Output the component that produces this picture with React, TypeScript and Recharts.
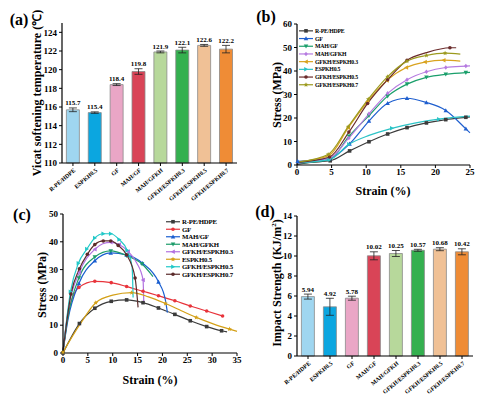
import React from "react";
import { BarChart, Bar, LineChart, Line, XAxis, YAxis, ErrorBar, LabelList, Cell } from "recharts";

const FONT = '"Liberation Serif", "Times New Roman", serif';

// ---- bar panels (a) and (d) ----
const sampleNames = [
  "R-PE/HDPE",
  "ESPKH0.5",
  "GF",
  "MAH/GF",
  "MAH/GFKH",
  "GFKH/ESPKH0.3",
  "GFKH/ESPKH0.5",
  "GFKH/ESPKH0.7",
];
const barColors = ["#9fd6f0", "#0ba6e0", "#eaa6c6", "#d94457", "#b7d89b", "#34b04f", "#f0c196", "#ef8c36"];

const vicatValues = [115.7, 115.4, 118.4, 119.8, 121.9, 122.1, 122.6, 122.2];
const vicatErrors = [0.2, 0.08, 0.1, 0.3, 0.1, 0.3, 0.1, 0.4];
const vicatTicks = [110, 112, 114, 116, 118, 120, 122, 124];

const impactValues = [5.94, 4.92, 5.78, 10.02, 10.25, 10.57, 10.68, 10.42];
const impactErrors = [0.25, 0.85, 0.2, 0.4, 0.3, 0.1, 0.15, 0.3];
const impactTicks = [0, 2, 4, 6, 8, 10, 12, 14];

// ---- line panels (b) and (c): [strain, stress, marker?] ----
const strainTicksB = [0, 5, 10, 15, 20, 25];
const stressTicksB = [0, 10, 20, 30, 40, 50, 60];
const strainTicksC = [0, 5, 10, 15, 20, 25, 30, 35];
const stressTicksC = [0, 10, 20, 30, 40, 50];

const bRpe = [[0, 0.3, 0], [2, 1.1, 0], [4.8, 1.8, 1], [7.6, 6, 1], [10.4, 9.9, 1], [13.1, 13.2, 1], [15.9, 15.9, 1], [18.7, 17.9, 1], [21.5, 19.3, 1], [24.4, 20.3, 1], [25, 20.5, 0]];
const bGf = [[0.1, 1.6, 1], [2, 2, 0], [4.7, 2.8, 1], [7.6, 9, 1], [10.4, 18.7, 1], [13.1, 26.3, 1], [15.9, 28.4, 1], [18.7, 26.6, 1], [21.5, 23.2, 1], [24.4, 15.4, 1], [25, 13.7, 0]];
const bMahGf = [[0, 0.8, 0], [4.7, 2.3, 1], [7.5, 12.2, 1], [10.4, 21, 1], [13.1, 29.3, 1], [15.9, 34.4, 1], [18.7, 37.3, 1], [21.5, 38.6, 1], [24.4, 39.3, 1], [25, 39.4, 0]];
const bMahGfkh = [[0, 0.8, 0], [4.7, 2.8, 1], [7.5, 11.5, 1], [10.4, 21.8, 1], [13.1, 30.5, 1], [15.9, 36.3, 1], [18.7, 39.7, 1], [21.5, 41.5, 1], [24.4, 42.1, 1], [25, 42.2, 0]];
const bEsp03 = [[0, 1.2, 0], [4.6, 4, 1], [7.4, 15.8, 1], [10.2, 27, 1], [13, 36, 1], [15.8, 41.5, 1], [18.5, 43.8, 1], [21.2, 44.6, 1], [23.6, 44.2, 0]];
const bEsp = [[0, 1, 0], [4.7, 2.3, 1], [7.5, 8.8, 1], [10.4, 12.6, 0], [13.7, 15.6, 1], [17, 17.8, 0], [20.5, 19.5, 1], [25, 20.8, 0]];
const bEsp05 = [[0, 1, 0], [4.7, 3.4, 1], [7.5, 14, 1], [10.2, 26.2, 1], [13.1, 36.3, 1], [15.9, 44.6, 1], [18.7, 47.8, 0], [22.1, 49.9, 1], [23, 49.9, 0]];
const bEsp07 = [[0, 1.2, 0], [4.5, 4.5, 1], [7.4, 16.3, 1], [10.3, 28, 1], [13.1, 37.6, 1], [15.9, 44.2, 1], [18.7, 46.6, 1], [21.4, 47.6, 1], [23.6, 47.2, 0]];

const cRpe = [[0, 0, 1], [3.3, 10.6, 1], [6.4, 16.1, 1], [9.7, 18.6, 1], [12.8, 19.1, 1], [16.1, 18.1, 1], [19.2, 16.2, 1], [22.5, 13.9, 1], [25.6, 11.6, 1], [28.9, 9.5, 1], [31.9, 8, 1], [33, 7.6, 0]];
const cGf = [[0, 0.5, 0], [1, 14, 0], [3.2, 23.6, 1], [6.4, 25.8, 1], [9.7, 25.3, 1], [12.8, 23.9, 1], [16.1, 22.2, 1], [19.2, 20.6, 1], [22.5, 18.8, 1], [25.6, 16.9, 1], [28.9, 15.1, 1], [32.1, 13.3, 1]];
const cMahGf = [[0, 0.5, 0], [1, 12, 0], [3.2, 25, 1], [6.4, 33.2, 1], [9.6, 36, 1], [12.8, 35.3, 1], [16, 32.3, 1], [19.2, 25.6, 1], [20.6, 19, 0], [21, 14.5, 0]];
const cMahGfkh = [[0, 0.5, 0], [1, 13, 0], [3.2, 27, 1], [6.4, 34.5, 1], [9.6, 36.7, 1], [12.8, 35, 1], [15.9, 32, 1], [18.1, 27.5, 0]];
const cEsp03 = [[0, 0.5, 0], [1, 15, 0], [3.3, 29, 1], [6.4, 37.3, 1], [8, 39.3, 0], [9.6, 39.8, 1], [11.3, 39, 1], [13.1, 36.5, 1], [14.8, 32.5, 0], [16.1, 26.3, 1], [16.25, 18, 0]];
const cEsp = [[0, 0.3, 1], [3.3, 10, 0], [6.6, 18.1, 1], [10, 20.8, 0], [13.8, 21.7, 1], [17.2, 20.2, 0], [20.6, 17.8, 1], [23.8, 15.2, 0], [26.8, 12.8, 1], [30.2, 10.5, 0], [33.5, 8.6, 1], [35, 7.8, 0]];
const cEsp05 = [[0, 0.5, 0], [1.5, 22, 1], [3.1, 32.3, 1], [4.8, 37.4, 1], [6.4, 41.4, 1], [8.1, 42.9, 1], [9.6, 42.9, 1], [11.3, 40.8, 1], [12.9, 37, 1], [13.9, 31, 0], [14.1, 20, 0]];
const cEsp07 = [[0, 0.5, 0], [1.6, 21.2, 1], [3.3, 30.3, 1], [4.9, 35.5, 1], [6.4, 39, 1], [8.1, 40.3, 1], [9.6, 40.3, 1], [11.1, 38.7, 1], [12.8, 35.3, 1], [14.5, 27, 1], [15.1, 16.4, 0]];

type Series = { name: string; color: string; shape: string; pts: number[][] };

const seriesB: Series[] = [
  { name: "R-PE/HDPE", color: "#3b3b3b", shape: "square", pts: bRpe },
  { name: "GF", color: "#1f5fcf", shape: "up", pts: bGf },
  { name: "MAH/GF", color: "#1a9f6b", shape: "down", pts: bMahGf },
  { name: "MAH/GFKH", color: "#b67be0", shape: "diamond", pts: bMahGfkh },
  { name: "GFKH/ESPKH0.3", color: "#d9a31f", shape: "left", pts: bEsp03 },
  { name: "ESPKH0.5", color: "#2cc3c6", shape: "right", pts: bEsp },
  { name: "GFKH/ESPKH0.5", color: "#6a2b2b", shape: "circle", pts: bEsp05 },
  { name: "GFKH/ESPKH0.7", color: "#9c9a1e", shape: "star", pts: bEsp07 },
];

const seriesC: Series[] = [
  { name: "R-PE/HDPE", color: "#3b3b3b", shape: "square", pts: cRpe },
  { name: "GF", color: "#e8343b", shape: "circle", pts: cGf },
  { name: "MAH/GF", color: "#1a5fd0", shape: "up", pts: cMahGf },
  { name: "MAH/GFKH", color: "#1d9c6a", shape: "down", pts: cMahGfkh },
  { name: "GFKH/ESPKH0.3", color: "#b171e0", shape: "left", pts: cEsp03 },
  { name: "ESPKH0.5", color: "#d4a017", shape: "star", pts: cEsp },
  { name: "GFKH/ESPKH0.5", color: "#21c8c8", shape: "right", pts: cEsp05 },
  { name: "GFKH/ESPKH0.7", color: "#5b2b2b", shape: "circle", pts: cEsp07 },
];

const tickStyle = { fontSize: 9, fontWeight: 700, fill: "#000", fontFamily: FONT };

function Marker({ cx, cy, shape, color, s = 1.8 }: any) {
  const k = s * 1.25;
  switch (shape) {
    case "square":
      return <rect x={cx - s} y={cy - s} width={2 * s} height={2 * s} fill={color} />;
    case "circle":
      return <circle cx={cx} cy={cy} r={s} fill={color} />;
    case "up":
      return <polygon points={`${cx},${cy - k} ${cx - k},${cy + s} ${cx + k},${cy + s}`} fill={color} />;
    case "down":
      return <polygon points={`${cx},${cy + k} ${cx - k},${cy - s} ${cx + k},${cy - s}`} fill={color} />;
    case "diamond":
      return <polygon points={`${cx},${cy - k} ${cx + s},${cy} ${cx},${cy + k} ${cx - s},${cy}`} fill={color} />;
    case "left":
      return <polygon points={`${cx - k},${cy} ${cx + s},${cy - k} ${cx + s},${cy + k}`} fill={color} />;
    case "right":
      return <polygon points={`${cx + k},${cy} ${cx - s},${cy - k} ${cx - s},${cy + k}`} fill={color} />;
    default: {
      const p: string[] = [];
      for (let i = 0; i < 10; i++) {
        const r = i % 2 === 0 ? k * 1.1 : k * 0.5;
        const a = (Math.PI / 5) * i - Math.PI / 2;
        p.push(`${cx + r * Math.cos(a)},${cy + r * Math.sin(a)}`);
      }
      return <polygon points={p.join(" ")} fill={color} />;
    }
  }
}

function SlantTick({ x, y, payload }: any) {
  const tx = x + 3;
  const ty = y + 3;
  return (
    <text x={tx} y={ty} transform={`rotate(-40 ${tx} ${ty})`} textAnchor="end" fontSize={6} fontWeight={700} fontFamily={FONT} fill="#000">
      {payload.value}
    </text>
  );
}

function BarPanel({ values, errors, ticks, domain, digits, width, height, margin, yWidth, xHeight }: any) {
  const data = sampleNames.map((name, i) => ({ name, v: values[i], e: errors[i] }));
  const base = domain[0];
  const valueLabel = (props: any) => {
    const { x, y, width: w, height: h, value, index } = props;
    const ppu = Number(h) / (value - base);
    const top = Number(y) - errors[index] * ppu - 2.5;
    return (
      <text key={index} x={Number(x) + Number(w) / 2} y={top} textAnchor="middle" fontSize={7} fontWeight={700} fontFamily={FONT} fill="#000">
        {value.toFixed(digits)}
      </text>
    );
  };
  return (
    <BarChart width={width} height={height} data={data} margin={margin} barCategoryGap="20%">
      <XAxis dataKey="name" interval={0} tick={<SlantTick />} tickSize={3} tickMargin={2} height={xHeight} axisLine={{ stroke: "#000", strokeWidth: 1.2 }} tickLine={{ stroke: "#000" }} />
      <XAxis xAxisId="top" orientation="top" dataKey="name" tick={false} tickLine={false} height={0} axisLine={{ stroke: "#000", strokeWidth: 1.2 }} />
      <YAxis domain={domain} ticks={ticks} interval={0} width={yWidth} tick={tickStyle} tickSize={3} tickMargin={2} axisLine={{ stroke: "#000", strokeWidth: 1.2 }} tickLine={{ stroke: "#000" }} />
      <YAxis yAxisId="right" orientation="right" domain={domain} tick={false} tickLine={false} width={0} axisLine={{ stroke: "#000", strokeWidth: 1.2 }} />
      <Bar dataKey="v" isAnimationActive={false} stroke="#8a8a8a" strokeWidth={0.8}>
        {data.map((d, i) => (
          <Cell key={d.name} fill={barColors[i]} />
        ))}
        <ErrorBar dataKey="e" width={4} stroke="#222" strokeWidth={0.8} />
        <LabelList dataKey="v" content={valueLabel} />
      </Bar>
    </BarChart>
  );
}

function LinePanel({ series, xTicks, yTicks, xMax, yMax, width, height, margin, yWidth, xHeight }: any) {
  return (
    <LineChart width={width} height={height} margin={margin}>
      <XAxis type="number" dataKey="x" domain={[0, xMax]} ticks={xTicks} interval={0} height={xHeight} tick={tickStyle} tickSize={3} tickMargin={1} axisLine={{ stroke: "#000", strokeWidth: 1.2 }} tickLine={{ stroke: "#000" }} />
      <XAxis xAxisId="top" orientation="top" type="number" dataKey="x" domain={[0, xMax]} tick={false} tickLine={false} height={0} axisLine={{ stroke: "#000", strokeWidth: 1.2 }} />
      <YAxis type="number" domain={[0, yMax]} ticks={yTicks} interval={0} width={yWidth} tick={tickStyle} tickSize={3} tickMargin={2} axisLine={{ stroke: "#000", strokeWidth: 1.2 }} tickLine={{ stroke: "#000" }} />
      <YAxis yAxisId="right" orientation="right" type="number" domain={[0, yMax]} tick={false} tickLine={false} width={0} axisLine={{ stroke: "#000", strokeWidth: 1.2 }} />
      {series.map((s: Series) => (
        <Line
          key={s.name}
          data={s.pts.map(([x, y, m]) => ({ x, y, m }))}
          dataKey="y"
          type="monotone"
          stroke={s.color}
          strokeWidth={1.2}
          activeDot={false}
          isAnimationActive={false}
          dot={(p: any) =>
            p.payload.m ? (
              <Marker key={p.index} cx={p.cx} cy={p.cy} shape={s.shape} color={s.color} />
            ) : (
              <g key={p.index} />
            )
          }
        />
      ))}
    </LineChart>
  );
}

function LegendBox({ series, left, top, step, fontSize, lineLen }: any) {
  return (
    <svg style={{ position: "absolute", left, top }} width={110} height={series.length * step + 4}>
      {series.map((s: Series, i: number) => {
        const cy = step / 2 + i * step;
        return (
          <g key={s.name}>
            <line x1={0} x2={lineLen} y1={cy} y2={cy} stroke={s.color} strokeWidth={1.2} />
            <Marker cx={lineLen / 2} cy={cy} shape={s.shape} color={s.color} />
            <text x={lineLen + 2} y={cy + fontSize * 0.35} fontSize={fontSize} fontWeight={700} fontFamily={FONT} letterSpacing={-0.2} fill="#000">
              {s.name}
            </text>
          </g>
        );
      })}
    </svg>
  );
}

const abs = (left: number, top: number): React.CSSProperties => ({ position: "absolute", left, top });

function VTitle({ x, y, text, size = 12 }: any) {
  return (
    <div
      style={{
        position: "absolute",
        left: x,
        top: y,
        transform: "translate(-50%, -50%) rotate(-90deg)",
        whiteSpace: "nowrap",
        fontFamily: FONT,
        fontWeight: 700,
        fontSize: size,
        lineHeight: 1,
      }}
    >
      {text}
    </div>
  );
}

function HTitle({ x, y, text, size = 12 }: any) {
  return (
    <div
      style={{
        position: "absolute",
        left: x,
        top: y,
        transform: "translate(-50%, -50%)",
        whiteSpace: "nowrap",
        fontFamily: FONT,
        fontWeight: 700,
        fontSize: size,
        lineHeight: 1,
      }}
    >
      {text}
    </div>
  );
}

export default function App() {
  return (
    <div style={{ position: "absolute", left: 0, top: 0, width: 500, height: 399, background: "#fff", overflow: "hidden" }}>
      {/* (a) Vicat */}
      <div style={abs(0, 0)}>
        <BarPanel values={vicatValues} errors={vicatErrors} ticks={vicatTicks} domain={[110, 125]} digits={1} width={250} height={215} margin={{ top: 23, right: 13, left: 0, bottom: 0 }} yWidth={62} xHeight={52} />
      </div>
      {/* (b) tensile */}
      <div style={abs(250, 0)}>
        <LinePanel series={seriesB} xTicks={strainTicksB} yTicks={stressTicksB} xMax={25} yMax={60} width={250} height={200} margin={{ top: 24, right: 30, left: 0, bottom: 0 }} yWidth={47} xHeight={35} />
      </div>
      {/* (c) flexural */}
      <div style={abs(0, 200)}>
        <LinePanel series={seriesC} xTicks={strainTicksC} yTicks={stressTicksC} xMax={35} yMax={50} width={250} height={199} margin={{ top: 14, right: 13, left: 0, bottom: 0 }} yWidth={63} xHeight={46} />
      </div>
      {/* (d) impact */}
      <div style={abs(250, 200)}>
        <BarPanel values={impactValues} errors={impactErrors} ticks={impactTicks} domain={[0, 14]} digits={2} width={250} height={199} margin={{ top: 16, right: 27, left: 0, bottom: 0 }} yWidth={47} xHeight={43} />
      </div>

      <LegendBox series={seriesB} left={299} top={27} step={7.7} fontSize={5.8} lineLen={14} />
      <LegendBox series={seriesC} left={166} top={218} step={7.5} fontSize={6.8} lineLen={14} />

      <HTitle x={19} y={20} text="(a)" size={16} />
      <HTitle x={266} y={17} text="(b)" size={16} />
      <HTitle x={22} y={215} text="(c)" size={16} />
      <HTitle x={265} y={212} text="(d)" size={16} />

      <VTitle x={37} y={93} text="Vicat softening temperature (℃)" />
      <VTitle x={277} y={95} text="Stress (MPa)" />
      <HTitle x={383} y={191} text="Strain (%)" />
      <VTitle x={42} y={285} text="Stress (MPa)" />
      <HTitle x={150} y={380} text="Strain (%)" />
      <VTitle x={277} y={283} text={<span>Impact Strength (KJ/m<sup style={{ fontSize: 7 }}>2</sup>)</span>} />
    </div>
  );
}
